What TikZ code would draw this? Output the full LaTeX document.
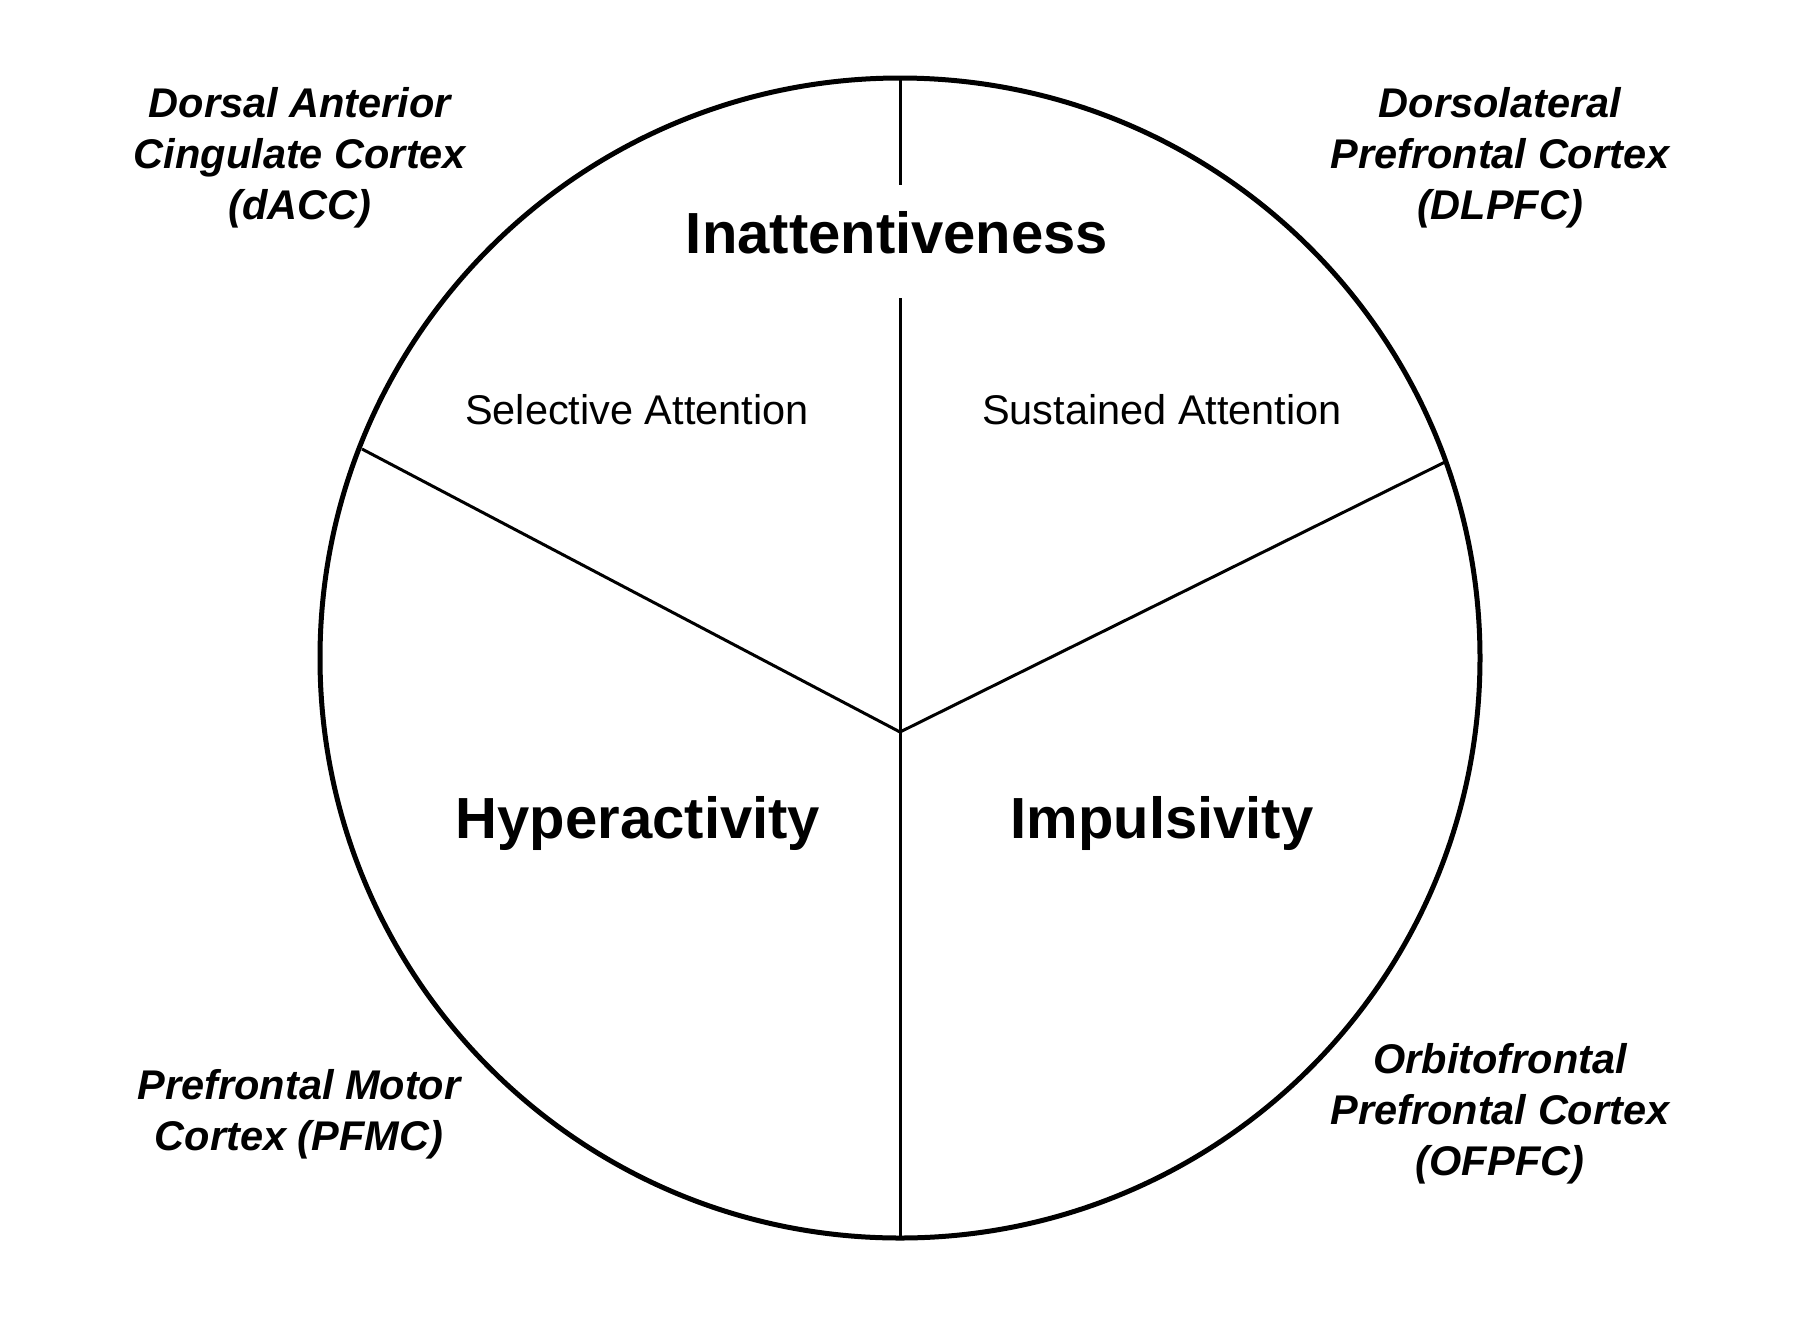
\documentclass[tikz,border=0pt]{standalone}
\usepackage{fontspec}
\setmainfont{Liberation Sans}
\begin{document}
\begin{tikzpicture}[x=1pt,y=-1pt,
  region/.style={font={\fontsize{41.5}{51}\selectfont\bfseries\itshape}, align=center, anchor=base, inner sep=0pt},
  title/.style={font={\fontsize{58}{66}\selectfont\bfseries}, anchor=base, inner sep=0pt},
  sub/.style={font={\fontsize{41.5}{50}\selectfont}, anchor=base, inner sep=0pt},
  divider/.style={line width=3pt}]
\useasboundingbox[fill=white] (0,0) rectangle (1800,1318);
\coordinate (C) at (900,658);
\draw[line width=5pt] (C) circle[radius=580];
\coordinate (J) at (900,732);
\coordinate (Top) at (900,78);
\coordinate (TopEnd) at (900,185);
\coordinate (MidStart) at (900,298);
\coordinate (Bot) at (900,1238);
\coordinate (L) at (362,449);
\coordinate (R) at (1445,462);
\draw[divider] (Top) -- (TopEnd);
\draw[divider] (MidStart) -- (J) -- (Bot);
\draw[divider, line join=miter] (L) -- (J) -- (R);
\node[title] (inatt) at (897,253) {Inattentiveness};
\node[title] (hyper) at (638,838) {Hyperactivity};
\node[title] (impul) at (1162,838) {Impulsivity};
\node[sub] (sel) at (637,424) {Selective Attention};
\node[sub] (sus) at (1162,424) {Sustained Attention};
\node[region] (dacc) at (300,219) {Dorsal Anterior\\Cingulate Cortex\\(dACC)};
\node[region] (dlpfc) at (1500,219) {Dorsolateral\\Prefrontal Cortex\\(DLPFC)};
\node[region] (pfmc) at (299,1150) {Prefrontal Motor\\Cortex (PFMC)};
\node[region] (ofpfc) at (1500,1175) {Orbitofrontal\\Prefrontal Cortex\\(OFPFC)};
\end{tikzpicture}
\end{document}
